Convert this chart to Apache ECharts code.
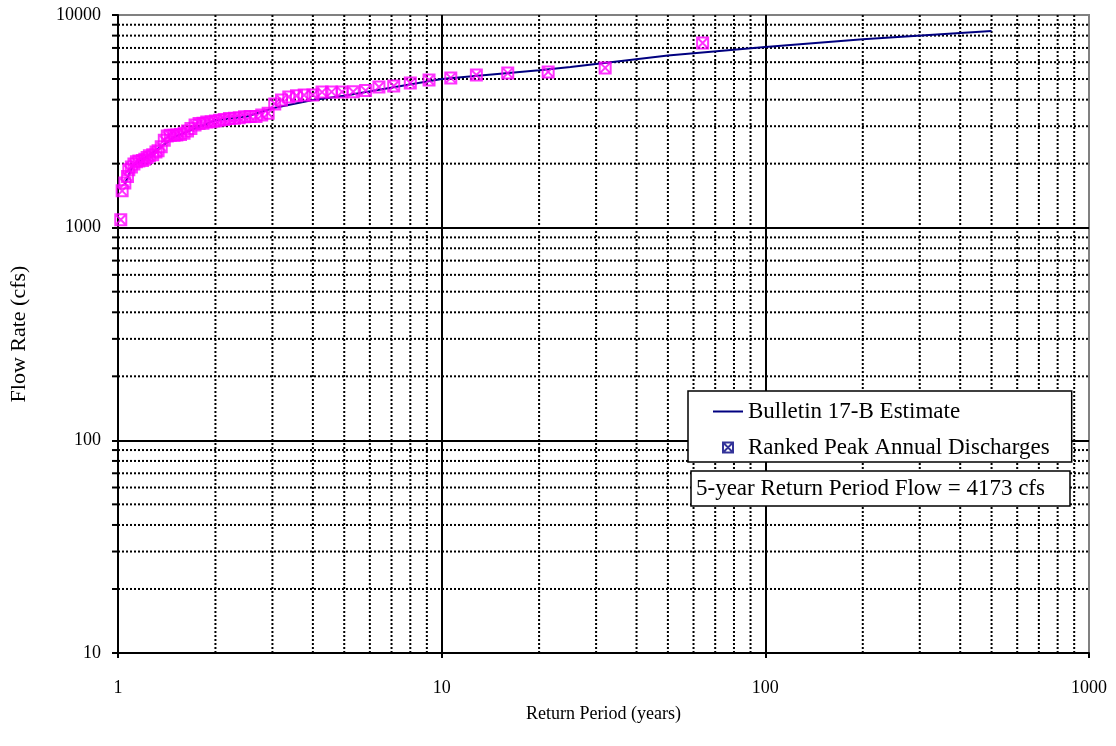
<!DOCTYPE html>
<html>
<head>
<meta charset="utf-8">
<script src="https://cdn.jsdelivr.net/npm/echarts@6/dist/echarts.min.js"></script>
<style>
  html, body { margin: 0; padding: 0; background: #fff; }
  #chart { width: 1116px; height: 746px; }
</style>
</head>
<body>
<div id="chart"></div>
<script>
// ranked peak annual discharges (return period in years, flow in cfs)
const returnPeriods = [64, 32, 21.33, 16, 12.8, 10.67, 9.14, 8, 7.11, 6.4,
  5.82, 5.33, 4.92, 4.57, 4.27, 4, 3.76, 3.56, 3.37, 3.2,
  3.05, 2.91, 2.78, 2.67, 2.56, 2.46, 2.37, 2.29, 2.21, 2.13,
  2.06, 2, 1.94, 1.88, 1.83, 1.78, 1.73, 1.68, 1.64, 1.6,
  1.56, 1.52, 1.49, 1.45, 1.42, 1.39, 1.36, 1.33, 1.31, 1.28,
  1.25, 1.23, 1.21, 1.19, 1.16, 1.14, 1.12, 1.10, 1.08, 1.07,
  1.05, 1.03, 1.02]
const peakFlows = [7390, 5640, 5400, 5330, 5220, 5060, 4950, 4790, 4640, 4590,
  4410, 4360, 4350, 4350, 4340, 4210, 4200, 4170, 4120, 3980,
  3820, 3450, 3390, 3330, 3330, 3320, 3290, 3270, 3260, 3230,
  3200, 3170, 3150, 3140, 3100, 3090, 3040, 2930, 2850, 2780,
  2740, 2730, 2720, 2720, 2700, 2580, 2400, 2300, 2270, 2200,
  2180, 2140, 2100, 2070, 2060, 2040, 1990, 1930, 1870, 1740,
  1620, 1490, 1090]

// Bulletin 17-B frequency curve
const estimateT = [1.05, 1.11, 1.25, 1.5, 2, 2.5, 3, 4, 5, 10, 20, 25, 50, 100, 200, 500]
const estimateQ = [1600, 1950, 2200, 2680, 3200, 3330, 3640, 3980, 4173, 5000, 5500, 5700, 6450, 7070, 7700, 8420]

// minor grid values
const xMinorTicks = [2, 3, 4, 5, 6, 7, 8, 9, 20, 30, 40, 50, 60, 70, 80, 90,
  200, 300, 400, 500, 600, 700, 800, 900]
const yMinorTicks = [20, 30, 40, 50, 60, 70, 80, 90, 200, 300, 400, 500, 600, 700, 800, 900,
  2000, 3000, 4000, 5000, 6000, 7000, 8000, 9000]

const X_MIN = 1, X_MAX = 1000
const Y_MIN = 10, Y_MAX = 10000
const FONT = '"Liberation Serif", "Times New Roman", serif'
const markerPath = 'path://M0,0L10,0L10,10L0,10Z M0,0L10,10 M10,0L0,10'
const dashStyle = { stroke: '#000', lineWidth: 2, lineDash: [2, 2] }

const chart = echarts.init(document.getElementById('chart'))

const option = {
  backgroundColor: '#fff',
  animation: false,
  title: {
    text: '5-year Return Period Flow = 4173 cfs',
    left: 691,
    top: 471,
    padding: [6, 25, 6, 5],
    borderColor: '#000',
    borderWidth: 1.5,
    backgroundColor: '#fff',
    textStyle: { fontFamily: FONT, fontSize: 23, fontWeight: 'normal', color: '#000' }
  },
  legend: {
    orient: 'vertical',
    left: 688,
    top: 391,
    data: [
      { name: 'Bulletin 17-B Estimate', itemStyle: { opacity: 0 } },
      { name: 'Ranked Peak Annual Discharges', itemStyle: { borderColor: '#000080' } }
    ],
    itemWidth: 30,
    itemHeight: 10,
    itemGap: 13,
    padding: [9, 22, 3, 24],
    borderColor: '#000',
    borderWidth: 1.5,
    backgroundColor: '#fff',
    selectedMode: false,
    textStyle: { fontFamily: FONT, fontSize: 23, color: '#000' }
  },
  grid: {
    left: 117,
    right: 27,
    top: 15,
    bottom: 93,
    show: true,
    borderColor: '#808080',
    borderWidth: 2
  },
  xAxis: {
    type: 'log',
    logBase: 10,
    min: X_MIN,
    max: X_MAX,
    name: 'Return Period (years)',
    nameLocation: 'middle',
    nameGap: 52,
    nameTextStyle: { fontFamily: FONT, fontSize: 18, color: '#000' },
    axisLine: { lineStyle: { color: '#000', width: 2 } },
    axisTick: { show: true, length: 5, lineStyle: { color: '#000', width: 2 } },
    axisLabel: { fontFamily: FONT, fontSize: 18, color: '#000', margin: 26,
      formatter: v => String(Math.round(v)) },
    splitLine: { show: true, showMinLine: false, showMaxLine: false,
      lineStyle: { color: '#000', width: 2 } }
  },
  yAxis: {
    type: 'log',
    logBase: 10,
    min: Y_MIN,
    max: Y_MAX,
    name: 'Flow Rate (cfs)',
    nameLocation: 'middle',
    nameGap: 88,
    nameTextStyle: { fontFamily: FONT, fontSize: 22, color: '#000' },
    axisLine: { lineStyle: { color: '#000', width: 2 } },
    axisTick: { show: true, length: 6, lineStyle: { color: '#000', width: 2 } },
    axisLabel: { fontFamily: FONT, fontSize: 18, color: '#000', margin: 17,
      formatter: v => String(Math.round(v)) },
    splitLine: { show: true, showMinLine: false, showMaxLine: false,
      lineStyle: { color: '#000', width: 2 } }
  },
  series: [
    {
      name: 'xMinorGrid',
      type: 'custom',
      silent: true,
      z: 1,
      data: xMinorTicks.map(v => [v, Y_MIN]),
      renderItem: (params, api) => {
        const v = api.value(0)
        const a = api.coord([v, Y_MAX])
        const b = api.coord([v, Y_MIN])
        return { type: 'line', shape: { x1: a[0], y1: a[1], x2: b[0], y2: b[1] }, style: dashStyle }
      }
    },
    {
      name: 'yMinorGrid',
      type: 'custom',
      silent: true,
      z: 1,
      data: yMinorTicks.map(v => [X_MIN, v]),
      renderItem: (params, api) => {
        const v = api.value(1)
        const a = api.coord([X_MIN, v])
        const b = api.coord([X_MAX, v])
        return {
          type: 'group',
          children: [
            { type: 'line', shape: { x1: a[0], y1: a[1], x2: b[0], y2: b[1] }, style: dashStyle },
            { type: 'line', shape: { x1: a[0] - 6, y1: a[1], x2: a[0], y2: a[1] },
              style: { stroke: '#000', lineWidth: 2 } }
          ]
        }
      }
    },
    {
      name: 'Bulletin 17-B Estimate',
      type: 'line',
      z: 3,
      symbol: 'none',
      smooth: false,
      data: estimateT.map((t, i) => [t, estimateQ[i]]),
      lineStyle: { color: '#000080', width: 2 },
      itemStyle: { color: '#000080' }
    },
    {
      name: 'Ranked Peak Annual Discharges',
      type: 'scatter',
      z: 4,
      symbol: markerPath,
      symbolSize: 11,
      data: returnPeriods.map((t, i) => [t, peakFlows[i]]),
      itemStyle: { color: 'rgba(0,0,0,0)', borderColor: '#ff00ff', borderWidth: 2 }
    }
  ]
}

chart.setOption(option)
window.addEventListener('resize', () => chart.resize())
</script>
</body>
</html>
